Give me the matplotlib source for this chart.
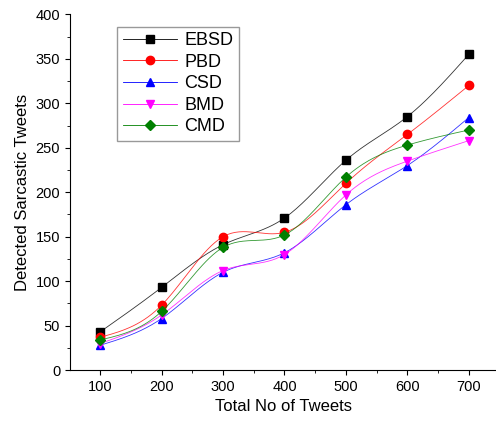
import numpy as np
import matplotlib.pyplot as plt

tweets = [100, 200, 300, 400, 500, 600, 700]
ebsd = [43, 93, 141, 171, 236, 285, 355]
pbd = [37, 73, 150, 155, 210, 265, 320]
csd = [28, 58, 110, 132, 186, 230, 284]
bmd = [30, 62, 112, 130, 197, 235, 258]
cmd = [34, 66, 138, 152, 217, 253, 270]


def spline(x, y, n=200):
    # natural cubic spline, just for drawing the smooth connecting curve
    x = np.asarray(x, float); y = np.asarray(y, float)
    k = len(x); h = np.diff(x)
    A = np.zeros((k, k)); b = np.zeros(k)
    A[0, 0] = A[-1, -1] = 1
    for i in range(1, k - 1):
        A[i, i - 1] = h[i - 1]; A[i, i] = 2 * (h[i - 1] + h[i]); A[i, i + 1] = h[i]
        b[i] = 6 * ((y[i + 1] - y[i]) / h[i] - (y[i] - y[i - 1]) / h[i - 1])
    M = np.linalg.solve(A, b)
    xs = np.linspace(x[0], x[-1], n)
    j = np.clip(np.searchsorted(x, xs) - 1, 0, k - 2)
    t1 = x[j + 1] - xs; t0 = xs - x[j]
    ys = (M[j] * t1**3 + M[j + 1] * t0**3) / (6 * h[j]) \
        + (y[j] / h[j] - M[j] * h[j] / 6) * t1 + (y[j + 1] / h[j] - M[j + 1] * h[j] / 6) * t0
    return xs, ys


plt.rcParams['font.family'] = ['Liberation Sans', 'DejaVu Sans']
fig = plt.figure(figsize=(4.96, 4.33), dpi=100)
ax = fig.add_axes([0.141, 0.145, 0.86, 0.822])

series = [('EBSD', ebsd, 'black', 's'), ('PBD', pbd, 'red', 'o'), ('CSD', csd, 'blue', '^'),
          ('BMD', bmd, 'magenta', 'v'), ('CMD', cmd, 'green', 'D')]
for name, vals, c, m in series:
    xs, ys = spline(tweets, vals)
    ax.plot(xs, ys, color=c, lw=0.6, alpha=0.8)
    ax.plot(tweets, vals, linestyle='none', marker=m, color=c, ms=6 if m != 'D' else 5)
    ax.plot([], [], color=c, lw=0.6, marker=m, ms=6 if m != 'D' else 5, label=name)

ax.set_xlim(51, 745)
ax.set_ylim(0, 400)
ax.set_xticks(tweets)
ax.set_yticks(range(0, 401, 50))
ax.set_xticks(np.arange(150, 701, 100), minor=True)
ax.set_yticks(range(25, 400, 50), minor=True)
ax.tick_params(labelsize=10.5)
ax.spines['top'].set_visible(False)
ax.spines['right'].set_visible(False)
ax.set_xlabel('Total No of Tweets', fontsize=12)
ax.set_ylabel('Detected Sarcastic Tweets', fontsize=12)
leg = ax.legend(loc='upper left', bbox_to_anchor=(0.09, 0.99), fontsize=13, frameon=True,
                fancybox=False, edgecolor='gray', handlelength=3, labelspacing=0.25,
                borderpad=0.3, handletextpad=0.4)
fig.savefig('out.png')
